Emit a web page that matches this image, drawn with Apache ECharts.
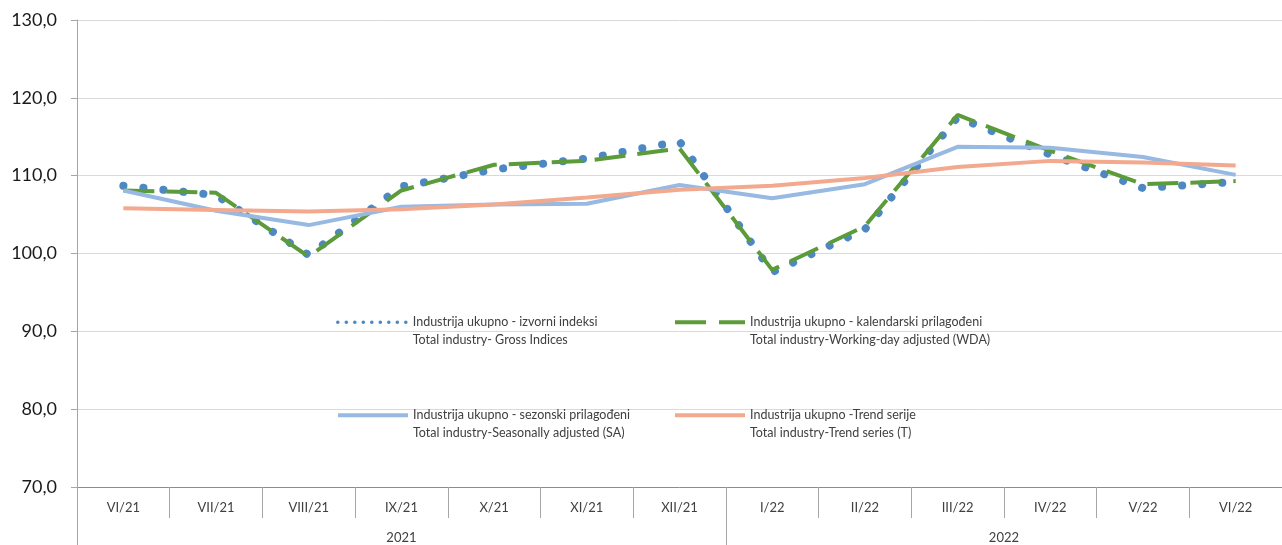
<!DOCTYPE html>
<html>
<head>
<meta charset="utf-8">
<script src="https://cdn.jsdelivr.net/npm/echarts@6/dist/echarts.min.js"></script>
<style>
  html, body { margin: 0; padding: 0; background: #fff; }
  #chart { width: 1282px; height: 545px; }
</style>
</head>
<body>
<div id="chart"></div>
<script>
// mjeseci (razina 1) i godine (razina 2)
const categories = ['VI/21', 'VII/21', 'VIII/21', 'IX/21', 'X/21', 'XI/21', 'XII/21',
  'I/22', 'II/22', 'III/22', 'IV/22', 'V/22', 'VI/22'];
const years = ['2021', '2022'];

// indeksi
const gross = [108.7, 107.5, 99.8, 108.6, 110.8, 112.2, 114.4, 97.6, 103.1, 117.5, 112.7, 108.4, 109.2];
const wda = [108.1, 107.8, 99.6, 108.1, 111.4, 111.9, 113.5, 97.9, 103.5, 117.8, 113.2, 108.9, 109.3];
const sa = [108.1, 105.5, 103.65, 106.0, 106.3, 106.4, 108.8, 107.1, 108.9, 113.7, 113.6, 112.4, 110.1];
const trend = [105.8, 105.6, 105.4, 105.7, 106.3, 107.2, 108.2, 108.7, 109.7, 111.1, 111.9, 111.7, 111.3];

const names = [
  'Industrija ukupno - izvorni indeksi\nTotal industry- Gross Indices',
  'Industrija ukupno - kalendarski prilagođeni\nTotal industry-Working-day adjusted (WDA)',
  'Industrija ukupno - sezonski prilagođeni\nTotal industry-Seasonally adjusted (SA)',
  'Industrija ukupno -Trend serije\nTotal industry-Trend series (T)'
];

const FONT = 'Lato';

// druga razina osi: polukoraci, godina u sredini svog raspona
const yearAxis = new Array(categories.length * 2 + 1).fill('');
const yearTicks = [0];
let s = 0;
years.forEach(y => {
  const n = categories.filter(c => c.endsWith('/' + y.slice(2))).length;
  yearAxis[s + n] = y;
  s += 2 * n;
  yearTicks.push(s);
});

function legendBox(idx, left, top, lineStyle) {
  return {
    data: [{ name: names[idx], lineStyle: lineStyle, itemStyle: { opacity: 0 } }],
    left: left,
    top: top,
    orient: 'vertical',
    padding: 0,
    itemWidth: 70,
    itemHeight: 10,
    selectedMode: false,
    formatter: n => '\n' + n,
    textStyle: { fontFamily: FONT, fontSize: 12.5, color: '#404040', lineHeight: 17.5 }
  };
}

const chart = echarts.init(document.getElementById('chart'));
chart.setOption({
  animation: false,
  grid: { left: 77, top: 20, width: 1208, height: 467 },
  legend: [
    legendBox(0, 336, 296, { color: '#4d88c4', width: 3.5, type: [0.1, 8.4], cap: 'round' }),
    legendBox(1, 673, 296, { color: '#5c9b3a', width: 4, type: [31, 13], cap: 'butt' }),
    legendBox(2, 336, 389, { color: '#97b9e2', width: 4, type: 'solid' }),
    legendBox(3, 673, 389, { color: '#f2a98e', width: 4, type: 'solid' })
  ],
  xAxis: [
    {
      type: 'category',
      data: categories,
      boundaryGap: true,
      axisLine: { lineStyle: { color: '#8c8c8c', width: 1 } },
      axisTick: { show: true, interval: 0, length: 31, lineStyle: { color: '#a6a6a6' } },
      axisLabel: { interval: 0, margin: 14, fontFamily: FONT, fontSize: 13, color: '#404040' },
      splitLine: { show: false }
    },
    {
      type: 'category',
      data: yearAxis,
      boundaryGap: false,
      position: 'bottom',
      axisLine: { show: false },
      axisTick: {
        show: true,
        length: 58,
        interval: i => yearTicks.indexOf(i) !== -1,
        lineStyle: { color: '#a6a6a6' }
      },
      axisLabel: {
        interval: (i, v) => v !== '',
        margin: 44,
        fontFamily: FONT, fontSize: 13, color: '#404040'
      },
      splitLine: { show: false }
    }
  ],
  yAxis: {
    type: 'value',
    min: 70,
    max: 130,
    interval: 10,
    axisLine: { show: true, lineStyle: { color: '#a6a6a6' } },
    axisTick: { show: true, length: 6, lineStyle: { color: '#a6a6a6' } },
    axisLabel: {
      margin: 20,
      fontFamily: FONT, fontSize: 18, color: '#1a1a1a',
      formatter: v => v.toFixed(1).replace('.', ',')
    },
    splitLine: { lineStyle: { color: '#d9d9d9', width: 1 } }
  },
  series: [
    {
      name: names[0], type: 'line', data: gross, symbol: 'none', showSymbol: false, z: 2,
      lineStyle: { color: '#4d88c4', width: 8, type: [0.1, 20], cap: 'round', join: 'round' }
    },
    {
      name: names[1], type: 'line', data: wda, symbol: 'none', showSymbol: false, z: 3,
      lineStyle: { color: '#5c9b3a', width: 4, type: [31, 12], cap: 'butt' }
    },
    {
      name: names[2], type: 'line', data: sa, symbol: 'none', showSymbol: false, z: 4,
      lineStyle: { color: '#97b9e2', width: 4 }
    },
    {
      name: names[3], type: 'line', data: trend, symbol: 'none', showSymbol: false, z: 5,
      lineStyle: { color: '#f2a98e', width: 4 }
    }
  ]
});
</script>
</body>
</html>
